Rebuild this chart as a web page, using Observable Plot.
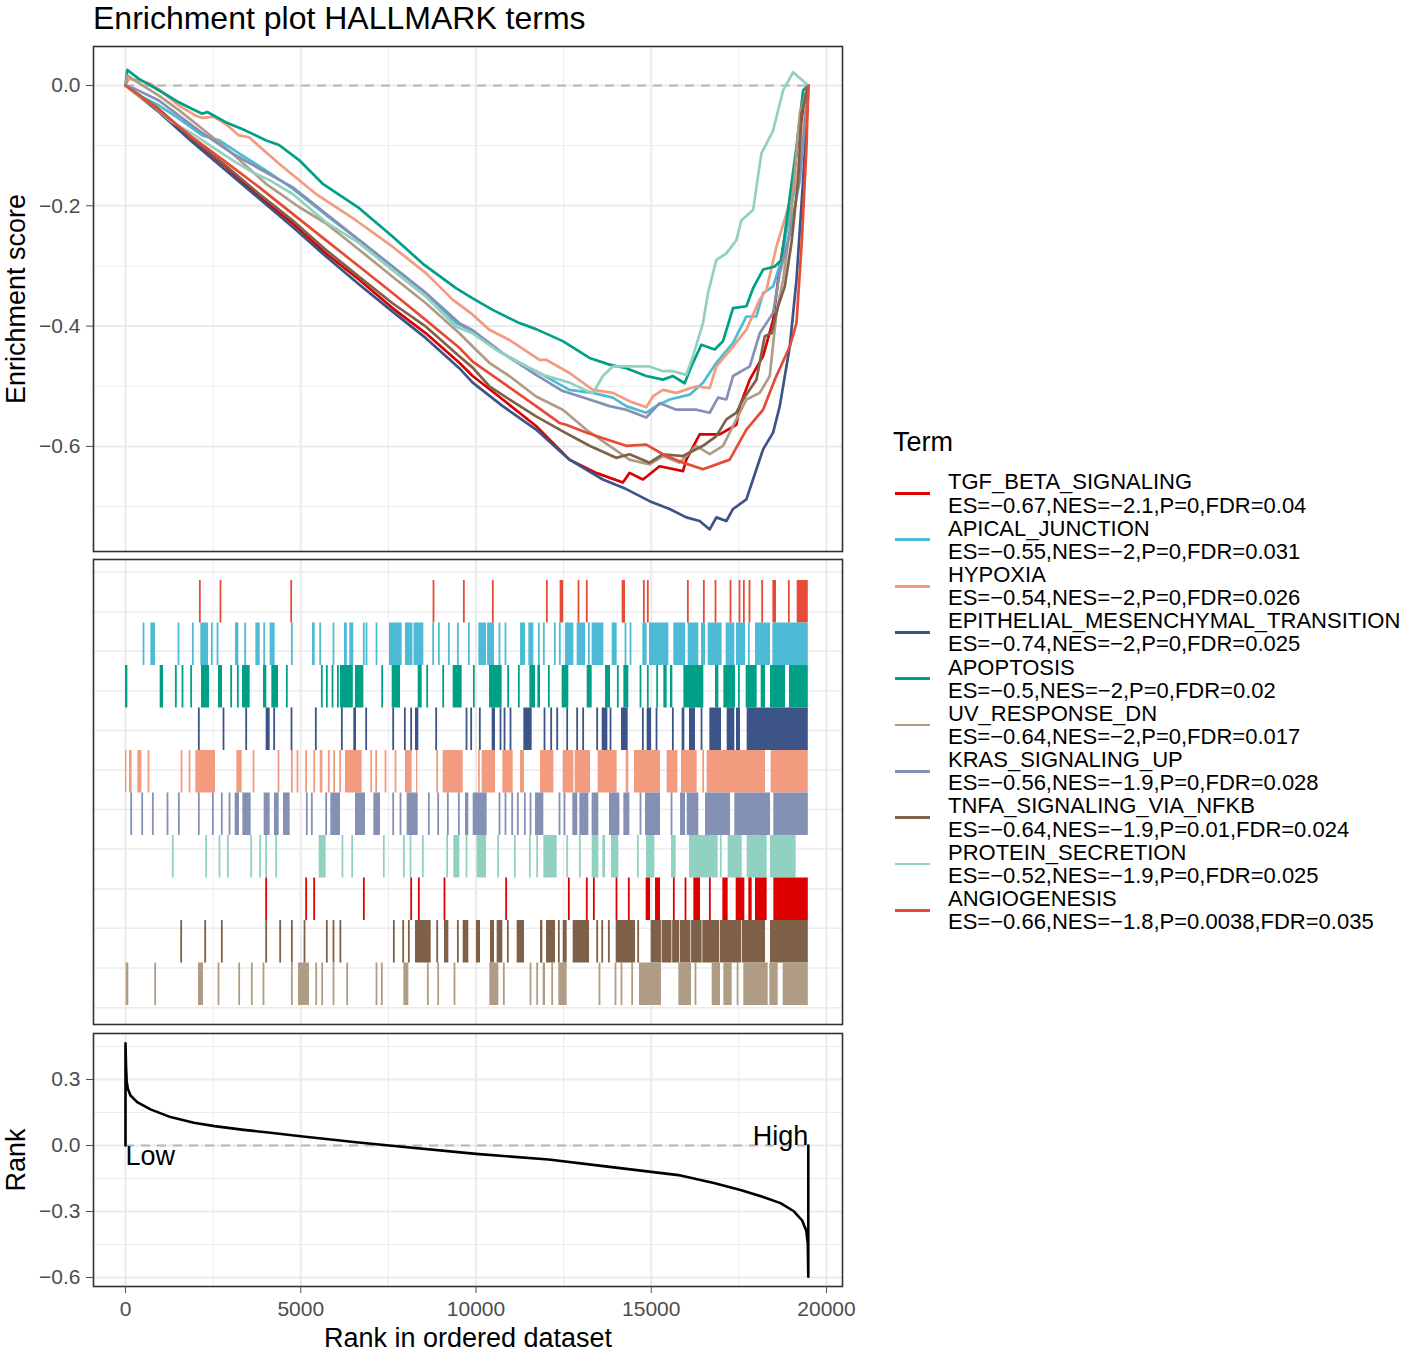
<!DOCTYPE html>
<html><head><meta charset="utf-8">
<script src="https://cdn.jsdelivr.net/npm/d3@7"></script>
<script src="https://cdn.jsdelivr.net/npm/@observablehq/plot@0.6"></script>
<style>
body{margin:0;background:#fff;}
#root{position:relative;width:1405px;height:1350px;font-family:'Liberation Sans',Arial,sans-serif;color:#000;}
#title{position:absolute;left:93px;top:0px;font-size:32px;line-height:normal;white-space:nowrap;}
.panel{position:absolute;left:0;}
.panel svg{display:block;}
#legendTitle{position:absolute;left:893px;top:429px;font-size:27px;line-height:27px;}
#legend{position:absolute;left:895px;top:470.4px;display:flex;flex-direction:column;}
.item{display:flex;align-items:center;height:46.3px;}
.sw{width:35px;height:2.8px;margin-right:18px;}
.lab{font-size:22px;line-height:23.15px;white-space:pre;}
</style></head>
<body><div id="root">
<div id="title">Enrichment plot HALLMARK terms</div>
<div id="p1" class="panel" style="top:0px"></div>
<div id="p2" class="panel" style="top:555px"></div>
<div id="p3" class="panel" style="top:1029px"></div>
<div id="legendTitle">Term</div>
<div id="legend"></div>
</div>
<script>
// ---------------- data ----------------
const barcodeTerms = ["ANGIOGENESIS","APICAL_JUNCTION","APOPTOSIS","EPITHELIAL_MESENCHYMAL_TRANSITION","HYPOXIA","KRAS_SIGNALING_UP","PROTEIN_SECRETION","TGF_BETA_SIGNALING","TNFA_SIGNALING_VIA_NFKB","UV_RESPONSE_DN"];
const npgColors = ["#E64B35","#4DBBD5","#00A087","#3C5488","#F39B7F","#8491B4","#91D1C2","#DC0000","#7E6148","#B09C85"];
const legendTerms = ["TGF_BETA_SIGNALING","APICAL_JUNCTION","HYPOXIA","EPITHELIAL_MESENCHYMAL_TRANSITION","APOPTOSIS","UV_RESPONSE_DN","KRAS_SIGNALING_UP","TNFA_SIGNALING_VIA_NFKB","PROTEIN_SECRETION","ANGIOGENESIS"];
const esValues  = [-0.67,-0.55,-0.54,-0.74,-0.5,-0.64,-0.56,-0.64,-0.52,-0.66];
const nesValues = [-2.1,-2,-2,-2,-2,-2,-1.9,-1.9,-1.9,-1.8];
const pValues   = [0,0,0,0,0,0,0,0.01,0,0.0038];
const fdrValues = [0.04,0.031,0.026,0.025,0.02,0.017,0.028,0.024,0.025,0.035];

const geneCount = 19480;
const xMajorTicks = [0,5000,10000,15000,20000];
const xMinorTicks = [2500,7500,12500,17500];
const esMajorTicks = [0,-0.2,-0.4,-0.6];
const esMinorTicks = [-0.1,-0.3,-0.5,-0.7];
const rankMajorTicks = [0.3,0,-0.3,-0.6];
const rankMinorTicks = [0.45,0.15,-0.15,-0.45];
const rugGridLines = [-0.195,0.736,1.666,2.597,3.528,4.459,5.39,6.32,7.25,8.18,9.12,10.05];

// running enrichment score curves [rank, ES]
const tgfCurve = [[0,0],[952,-0.041],[1905,-0.091],[2857,-0.135],[3810,-0.185],[4762,-0.229],[5714,-0.279],[6667,-0.323],[7619,-0.37],[8571,-0.412],[9524,-0.461],[9905,-0.483],[10762,-0.522],[11714,-0.566],[12667,-0.622],[13429,-0.644],[14190,-0.66],[14381,-0.644],[14762,-0.655],[15238,-0.633],[15905,-0.641],[16000,-0.622],[16381,-0.58],[16952,-0.58],[17429,-0.564],[17524,-0.533],[17810,-0.489],[18190,-0.45],[18476,-0.39],[18667,-0.301],[18952,-0.202],[19190,-0.091],[19429,-0.008],[19480,0]];
const apicalCurve = [[0,0],[476,-0.019],[952,-0.033],[1524,-0.055],[2190,-0.083],[2667,-0.091],[3238,-0.113],[4000,-0.141],[4762,-0.171],[5714,-0.215],[6667,-0.257],[7619,-0.301],[8571,-0.345],[9429,-0.395],[9905,-0.408],[10571,-0.439],[11238,-0.461],[11905,-0.481],[12667,-0.506],[13333,-0.511],[13905,-0.519],[14286,-0.533],[14857,-0.544],[15143,-0.533],[15524,-0.522],[16095,-0.514],[16476,-0.494],[16857,-0.461],[17333,-0.428],[17714,-0.384],[18000,-0.384],[18190,-0.345],[18476,-0.334],[18714,-0.29],[18952,-0.213],[19238,-0.13],[19480,0]];
const hypoxiaCurve = [[0,0],[95,0.011],[429,0.008],[714,0.003],[1048,-0.011],[1524,-0.033],[2000,-0.05],[2190,-0.054],[2524,-0.052],[2857,-0.064],[3238,-0.083],[3524,-0.086],[4381,-0.13],[5429,-0.18],[6571,-0.224],[7619,-0.268],[8571,-0.312],[9333,-0.356],[9905,-0.381],[10381,-0.406],[10952,-0.423],[11810,-0.456],[12000,-0.456],[12667,-0.478],[13333,-0.506],[13905,-0.511],[14381,-0.525],[14857,-0.535],[15048,-0.517],[15333,-0.506],[15714,-0.511],[16286,-0.5],[16667,-0.503],[16857,-0.467],[17333,-0.434],[17714,-0.406],[18095,-0.356],[18286,-0.34],[18571,-0.268],[18857,-0.213],[19143,-0.157],[19333,-0.075],[19480,0]];
const emtCurve = [[0,0],[952,-0.044],[1905,-0.094],[2857,-0.141],[3810,-0.188],[4762,-0.235],[5714,-0.284],[6667,-0.331],[7619,-0.376],[8571,-0.42],[9524,-0.47],[9905,-0.494],[10762,-0.533],[11714,-0.572],[12667,-0.622],[13619,-0.655],[14286,-0.671],[14952,-0.691],[15524,-0.704],[16000,-0.718],[16381,-0.724],[16667,-0.738],[16857,-0.718],[17143,-0.724],[17333,-0.704],[17714,-0.688],[18000,-0.638],[18190,-0.605],[18476,-0.577],[18667,-0.533],[18952,-0.434],[19143,-0.323],[19333,-0.157],[19470,-0.019],[19480,0]];
const apoptosisCurve = [[0,0],[50,0.026],[381,0.011],[952,-0.008],[1524,-0.028],[1905,-0.039],[2190,-0.047],[2333,-0.044],[2857,-0.061],[3428,-0.075],[4000,-0.091],[4381,-0.099],[4952,-0.124],[5619,-0.163],[6667,-0.204],[7619,-0.251],[8476,-0.296],[9429,-0.337],[9905,-0.354],[10476,-0.373],[11238,-0.395],[11714,-0.405],[12476,-0.425],[13238,-0.453],[13810,-0.464],[14286,-0.47],[14857,-0.483],[15333,-0.489],[15619,-0.483],[15952,-0.495],[16143,-0.467],[16429,-0.431],[16810,-0.439],[17048,-0.425],[17333,-0.37],[17714,-0.367],[17905,-0.337],[18190,-0.306],[18524,-0.301],[18714,-0.29],[18952,-0.185],[19143,-0.102],[19333,-0.008],[19480,0]];
const uvCurve = [[0,0],[48,0.017],[190,0.011],[952,-0.017],[1524,-0.041],[2190,-0.072],[3048,-0.113],[4000,-0.163],[4952,-0.202],[5714,-0.229],[6667,-0.273],[7619,-0.318],[8571,-0.362],[9524,-0.412],[9905,-0.434],[10381,-0.461],[10952,-0.483],[11714,-0.517],[12476,-0.539],[13143,-0.572],[13810,-0.599],[14381,-0.622],[14952,-0.63],[15333,-0.616],[15810,-0.627],[16286,-0.599],[16667,-0.613],[17048,-0.599],[17238,-0.577],[17714,-0.522],[18095,-0.511],[18381,-0.483],[18571,-0.378],[18762,-0.323],[18952,-0.24],[19238,-0.047],[19480,0]];
const krasCurve = [[0,0],[286,-0.006],[952,-0.025],[1524,-0.05],[2095,-0.075],[3048,-0.113],[3810,-0.138],[4762,-0.169],[5714,-0.213],[6667,-0.257],[7619,-0.301],[8571,-0.345],[9524,-0.395],[9905,-0.407],[10762,-0.445],[11714,-0.481],[12476,-0.508],[13238,-0.522],[13810,-0.533],[14286,-0.539],[14857,-0.552],[15238,-0.528],[15714,-0.539],[16286,-0.539],[16667,-0.544],[16905,-0.519],[17143,-0.522],[17333,-0.483],[17810,-0.467],[18095,-0.412],[18476,-0.378],[18667,-0.312],[18952,-0.246],[19238,-0.157],[19480,0]];
const tnfaCurve = [[0,0],[952,-0.039],[1905,-0.088],[2857,-0.133],[3810,-0.18],[4762,-0.224],[5714,-0.273],[6667,-0.318],[7619,-0.362],[8571,-0.401],[9524,-0.45],[9905,-0.469],[10381,-0.5],[10952,-0.522],[11714,-0.55],[12476,-0.575],[13238,-0.599],[14000,-0.619],[14381,-0.613],[14952,-0.627],[15333,-0.613],[15905,-0.616],[16476,-0.599],[16857,-0.583],[17143,-0.555],[17429,-0.544],[17619,-0.522],[18000,-0.489],[18238,-0.417],[18429,-0.412],[18619,-0.367],[18810,-0.334],[19000,-0.262],[19190,-0.157],[19286,-0.047],[19480,0]];
const proteinCurve = [[0,0],[286,-0.014],[762,-0.033],[1333,-0.061],[1905,-0.08],[2476,-0.102],[3048,-0.124],[3619,-0.144],[4095,-0.157],[4762,-0.18],[5714,-0.227],[6667,-0.262],[7619,-0.307],[8571,-0.351],[9429,-0.401],[9905,-0.412],[10571,-0.439],[11238,-0.461],[11905,-0.481],[12667,-0.494],[13333,-0.512],[13619,-0.483],[13905,-0.467],[14286,-0.467],[14952,-0.467],[15333,-0.475],[15619,-0.475],[16000,-0.481],[16190,-0.45],[16476,-0.395],[16619,-0.345],[16857,-0.29],[17143,-0.279],[17429,-0.257],[17571,-0.224],[17905,-0.207],[18000,-0.169],[18143,-0.113],[18476,-0.075],[18762,-0.008],[19048,0.022],[19480,0]];
const angioCurve = [[0,0],[952,-0.041],[1905,-0.086],[2857,-0.127],[3810,-0.169],[4762,-0.213],[5714,-0.257],[6667,-0.301],[7619,-0.345],[8571,-0.39],[9524,-0.436],[9905,-0.459],[10762,-0.494],[11714,-0.533],[12381,-0.561],[12571,-0.564],[13143,-0.577],[13714,-0.588],[14286,-0.599],[14857,-0.597],[15333,-0.613],[15905,-0.627],[16476,-0.638],[17238,-0.622],[17714,-0.572],[18190,-0.539],[18524,-0.489],[18952,-0.434],[19143,-0.395],[19286,-0.268],[19429,-0.102],[19480,0]];

// gene hits per term (number = single hit, [a,b] = dense run of hits)
const angioHits = [2121,2710,4727,8787,9653,10480,12021,[12400,12500],12924,13160,[14170,14265],14788,14902,16044,16500,16833,17261,17517,17641,17803,18164,[18469,18573],18925,[19163,19480]];
const apicalHits = [514,[723,856],1512,1921,[2149,2368],2463,2625,[3138,3233],3414,[3718,3842],3956,[4127,4270],4746,[5335,5411],5554,5934,[6248,6330],[6400,6514],6800,6876,7161,[7532,7893],[7988,8200],[8230,8512],8778,8940,9225,9482,9795,[10081,10300],[10330,10528],10670,10841,[11270,11412],[11507,11650],11793,11935,12249,12392,[12553,12791],[12886,13124],13219,[13314,13647],[13885,14027],14265,14408,[14760,14883],[14950,15502],[15644,15977],[16053,16357],[16434,16548],[16624,17023],[17137,17384],[17432,17689],17784,[17974,18402],[18469,19480]];
const apoptosisHits = [[0,67],[989,1084],1436,1626,1873,[2168,2397],[2653,2767],3015,3205,[3338,3557],[3937,4032],[4175,4365],4603,5601,5744,5906,6060,[6134,6500],[6560,6800],7323,[7608,7846],[8350,8464],8607,9063,[9348,9605],9938,[10385,10746],10917,11222,[11536,11698],[11764,11840],12078,[12458,12648],[13172,13314],[13695,13838],14046,[14218,14360],14693,14902,15168,[15359,15454],[15549,15616],[15930,16500],[16833,16928],[17071,17404],17499,[17708,18022],[18136,18259],[18402,18830],[18944,19480]];
const emtHits = [2092,2796,3443,[4013,4127],4241,4736,5430,6172,[6514,6590],6866,7637,7970,8150,[8274,8369],8863,9729,9862,10109,[10461,10556],10699,10813,10984,[11365,11602],11954,12145,12316,12601,12886,13057,13457,[13600,13761],13837,[14151,14341],14760,[14883,15007],15150,15616,[15882,15958],[16091,16262],16434,[16672,17004],[17166,17384],[17432,17546],[17736,19480]];
const hypoxiaHits = [[0,38],[114,190],[352,466],656,1598,1826,[2006,2568],[3176,3329],3652,4365,4746,4907,5154,5383,[5554,5630],5801,5953,6124,[6277,6752],7009,7152,7418,7703,[7989,8179],[8302,8340],8892,[9063,9634],10081,[10176,10556],[10765,11060],[11270,11384],[11840,12221],[12487,12791],[12829,13267],[13485,14027],[14284,14360],[14522,15264],[15454,15758],[15863,16310],16480,[16595,18259],[18421,19480]];
const krasHits = [162,476,780,1198,1522,2092,2492,2748,2967,[3129,3252],[3348,3585],[3956,4127],[4251,4384],[4508,4698],5173,5316,5725,[5858,6134],[6562,6847],[7085,7275],7637,7846,[8036,8350],8654,8920,9196,9510,[9700,9795],[9919,10318],10670,10841,11032,11193,11393,11555,[11698,11935],12382,12525,[12762,12905],[12962,13219],[13314,13504],[13809,14104],[14218,14389],14693,[14836,15264],15578,[15835,15977],[16025,16357],[16548,17261],[17384,18402],[18497,19480]];
const proteinHits = [1350,2301,2682,2920,3585,3842,4013,4299,[5525,5725],6190,6467,7370,7941,8131,8483,9177,[9367,9539],9729,[10033,10299],10632,11108,11536,11745,[11935,12316],12601,12962,[13314,13504],[13618,13695],[13866,14075],14617,[14864,15102],[15578,15711],[16091,16909],[16976,17023],[17194,17594],[17736,18307],[18402,19134]];
const tgfHits = [4013,5154,5383,6800,8150,8369,9101,10860,12648,13160,13362,14008,14360,[14855,14978],[15121,15264],15644,15977,[16215,16405],16672,[17042,17194],[17423,17670],[17784,17879],[17974,18307],[18497,19480]];
const tnfaHits = [1588,2273,2748,4013,4413,4746,5107,5744,5934,6130,7656,7922,8084,[8274,8721],8892,[9101,9225],9482,[9634,9795],[10014,10128],[10414,10528],[10604,10765],10908,[11174,11384],[11840,11906],[12012,12268],12363,[12487,12601],[12772,13238],13457,13600,13790,[13999,14551],14627,[14998,15290],[15310,15590],[15610,15810],[15830,16130],[16150,16450],[16470,16950],[16970,17580],[17600,18260],[18400,19480]];
const uvHits = [[19,95],846,[2083,2225],2653,3243,3604,3937,4746,[4936,5250],5440,5611,5934,6324,7161,7313,[7941,8084],8626,8920,9386,[10394,10651],10794,11555,11745,[11916,11982],12173,[12363,12601],13523,13980,14151,14455,[14665,15292],[15787,16148],16262,[16738,16976],[17071,17308],[17451,17499],[17641,18335],[18383,18621],[18764,19480]];

// ranked list metric [rank, value]
const rankCurve = [[0,0],[0,0.464],[15,0.36],[35,0.29],[66,0.258],[143,0.227],[333,0.197],[713,0.164],[1284,0.129],[1950,0.103],[2540,0.088],[3376,0.071],[4137,0.058],[5000,0.042],[6583,0.015],[7524,0],[10000,-0.038],[12069,-0.064],[13636,-0.094],[15000,-0.12],[15834,-0.136],[16785,-0.171],[17547,-0.202],[18212,-0.235],[18688,-0.262],[19068,-0.299],[19306,-0.341],[19420,-0.386],[19466,-0.447],[19480,-0.597],[19480,0]];
const lowHighLabels = [{x:0,y:0,label:"Low",side:"start"},{x:19480,y:0,label:"High",side:"end"}];

// ---------------- build ----------------
const curvesByTerm = {
  TGF_BETA_SIGNALING: tgfCurve, APICAL_JUNCTION: apicalCurve, HYPOXIA: hypoxiaCurve,
  EPITHELIAL_MESENCHYMAL_TRANSITION: emtCurve, APOPTOSIS: apoptosisCurve, UV_RESPONSE_DN: uvCurve,
  KRAS_SIGNALING_UP: krasCurve, TNFA_SIGNALING_VIA_NFKB: tnfaCurve, PROTEIN_SECRETION: proteinCurve,
  ANGIOGENESIS: angioCurve
};
const hitsByTerm = [angioHits, apicalHits, apoptosisHits, emtHits, hypoxiaHits, krasHits, proteinHits, tgfHits, tnfaHits, uvHits];

const curveRows = legendTerms.flatMap(t => curvesByTerm[t].map(([x, y]) => ({term: t, x, y})));
const singleRows = [], runRows = [];
hitsByTerm.forEach((hits, row) => {
  const term = barcodeTerms[row];
  hits.forEach(h => {
    if (Array.isArray(h)) runRows.push({term, row, a: h[0], b: h[1]});
    else singleRows.push({term, row, x: h});
  });
});
const rankRows = rankCurve.map(([x, y]) => ({x, y}));
const zeroLine = [{x1: 0, x2: geneCount, y: 0}];

const font = "'Liberation Sans', Arial, sans-serif";
const baseStyle = {fontFamily: font, fontSize: "21px", background: "none", overflow: "visible", color: "#000"};
const xDomain = [-913, 20456];
const colorScale = {domain: barcodeTerms, range: npgColors};
const gridColor = "#EBEBEB";
const fmt1 = d3.format(".1f");

// top: running enrichment score
const p1 = Plot.plot({
  width: 850, height: 555,
  marginLeft: 93, marginRight: 8, marginTop: 46, marginBottom: 4,
  style: baseStyle,
  x: {domain: xDomain, axis: null},
  y: {domain: [-0.7747, 0.0648]},
  color: colorScale,
  marks: [
    Plot.ruleY(esMinorTicks, {stroke: gridColor, strokeWidth: 1}),
    Plot.ruleX(xMinorTicks, {stroke: gridColor, strokeWidth: 1}),
    Plot.ruleY(esMajorTicks, {stroke: gridColor, strokeWidth: 2}),
    Plot.ruleX(xMajorTicks, {stroke: gridColor, strokeWidth: 2}),
    Plot.ruleY(zeroLine, {x1: "x1", x2: "x2", y: "y", stroke: "#B8B8B8", strokeWidth: 2, strokeDasharray: "9,7"}),
    Plot.line(curveRows, {x: "x", y: "y", z: "term", stroke: "term", strokeWidth: 2.7, strokeLinejoin: "round"}),
    Plot.frame({stroke: "#333333", strokeWidth: 1.6}),
    Plot.axisY(esMajorTicks, {tickSize: 7, tickPadding: 6, fontSize: 21, tickFormat: fmt1, color: "#4D4D4D", label: null}),
    Plot.text(["Enrichment score"], {text: d => d, frameAnchor: "left", dx: -69, rotate: -90, textAnchor: "middle", lineAnchor: "bottom", fontSize: 27, fill: "#000"})
  ]
});
document.getElementById("p1").appendChild(p1);

// middle: gene hit barcodes
const p2 = Plot.plot({
  width: 850, height: 474,
  marginLeft: 93, marginRight: 8, marginTop: 4, marginBottom: 5,
  style: baseStyle,
  x: {domain: xDomain, axis: null},
  y: {domain: [10.447, -0.494], axis: null},
  color: colorScale,
  marks: [
    Plot.ruleX(xMinorTicks, {stroke: gridColor, strokeWidth: 1}),
    Plot.ruleX(xMajorTicks, {stroke: gridColor, strokeWidth: 2}),
    Plot.ruleY(rugGridLines, {stroke: gridColor, strokeWidth: 1.5}),
    Plot.rect(runRows, {x1: "a", x2: "b", y1: "row", y2: d => d.row + 1, fill: "term"}),
    Plot.ruleX(singleRows, {x: "x", y1: "row", y2: d => d.row + 1, stroke: "term", strokeWidth: 1.8}),
    Plot.frame({stroke: "#333333", strokeWidth: 1.6})
  ]
});
document.getElementById("p2").appendChild(p2);

// bottom: ranked list metric
const p3 = Plot.plot({
  width: 850, height: 321,
  marginLeft: 93, marginRight: 8, marginTop: 4, marginBottom: 64,
  style: baseStyle,
  x: {domain: xDomain},
  y: {domain: [-0.641, 0.509]},
  marks: [
    Plot.ruleY(rankMinorTicks, {stroke: gridColor, strokeWidth: 1}),
    Plot.ruleX(xMinorTicks, {stroke: gridColor, strokeWidth: 1}),
    Plot.ruleY(rankMajorTicks, {stroke: gridColor, strokeWidth: 2}),
    Plot.ruleX(xMajorTicks, {stroke: gridColor, strokeWidth: 2}),
    Plot.ruleY(zeroLine, {x1: "x1", x2: "x2", y: "y", stroke: "#B8B8B8", strokeWidth: 2, strokeDasharray: "9,7"}),
    Plot.line(rankRows, {x: "x", y: "y", stroke: "#000", strokeWidth: 2.6, strokeLinejoin: "round"}),
    Plot.text(lowHighLabels.filter(d => d.side === "start"), {x: "x", y: "y", text: "label", textAnchor: "start", lineAnchor: "top", fontSize: 27, fill: "#000"}),
    Plot.text(lowHighLabels.filter(d => d.side === "end"), {x: "x", y: "y", text: "label", textAnchor: "end", lineAnchor: "bottom", fontSize: 27, fill: "#000"}),
    Plot.frame({stroke: "#333333", strokeWidth: 1.6}),
    Plot.axisY(rankMajorTicks, {tickSize: 7, tickPadding: 6, fontSize: 21, tickFormat: fmt1, color: "#4D4D4D", label: null}),
    Plot.axisX(xMajorTicks, {tickSize: 7, tickPadding: 8, fontSize: 21, tickFormat: d3.format("d"), color: "#4D4D4D", label: null}),
    Plot.text(["Rank"], {text: d => d, frameAnchor: "left", dx: -69, rotate: -90, textAnchor: "middle", lineAnchor: "bottom", fontSize: 27, fill: "#000"}),
    Plot.text(["Rank in ordered dataset"], {text: d => d, frameAnchor: "bottom", dy: 60, textAnchor: "middle", lineAnchor: "bottom", fontSize: 27, fill: "#000"})
  ]
});
document.getElementById("p3").appendChild(p3);

// legend
const minus = v => String(v).replace("-", "\u2212");
const legend = document.getElementById("legend");
legendTerms.forEach((t, i) => {
  const item = document.createElement("div");
  item.className = "item";
  const sw = document.createElement("div");
  sw.className = "sw";
  sw.style.background = npgColors[barcodeTerms.indexOf(t)];
  const lab = document.createElement("div");
  lab.className = "lab";
  lab.textContent = `${t}\nES=${minus(esValues[i])},NES=${minus(nesValues[i])},P=${pValues[i]},FDR=${fdrValues[i]}`;
  item.appendChild(sw); item.appendChild(lab);
  legend.appendChild(item);
});
</script>
</body></html>
